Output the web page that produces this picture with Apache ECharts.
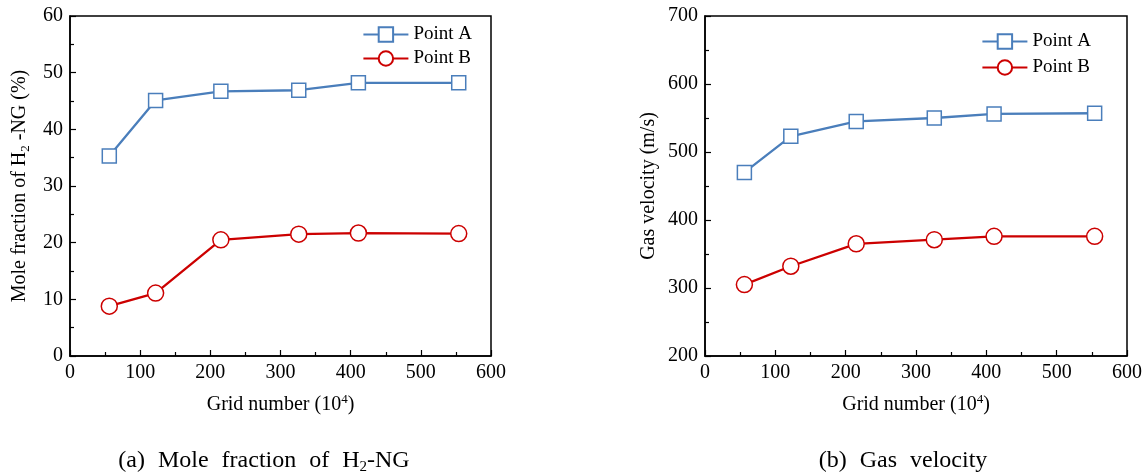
<!DOCTYPE html>
<html>
<head>
<meta charset="utf-8">
<script src="https://cdn.jsdelivr.net/npm/echarts@6/dist/echarts.min.js"></script>
<style>
  html, body { margin: 0; padding: 0; background: #fff; }
  #chart { width: 1146px; height: 475px; }
</style>
</head>
<body>
<div id="chart"></div>
<script>
// Grid independence study: mesh size (in 10^4 cells) versus monitored quantities
const gridNumbers = [56, 122, 215, 326, 411, 554];
const moleFractionA = [35.3, 45.1, 46.7, 46.9, 48.2, 48.2];
const moleFractionB = [8.8, 11.1, 20.5, 21.5, 21.7, 21.6];
const velocityA = [470, 523, 545, 550, 556, 557];
const velocityB = [305, 332, 365, 371, 376, 376];
const seriesNames = ['Point A', 'Point B'];
const xTitle = '{n|Grid number (10}{sup|4}{n|)}';
const yTitleMole = '{n|Mole fraction of H}{sub|2}{n| -NG (%)}';
const yTitleVelocity = 'Gas velocity (m/s)';
const captionA = '{t|(a)}{g| }{t|Mole}{g| }{t|fraction}{g| }{t|of}{g| }{t|H}{sub|2}{t|-NG}';
const captionB = '{t|(b)}{g| }{t|Gas}{g| }{t|velocity}';

const FONT = '"Liberation Serif", "Times New Roman", "DejaVu Serif", serif';
const BLUE = '#4a7ebb';
const RED = '#cc0000';

// rich styles for axis titles (20px text with sub/superscripts)
const nameRich = {
  n: { fontFamily: FONT, fontSize: 20, color: '#000', lineHeight: 24, verticalAlign: 'middle' },
  sub: { fontFamily: FONT, fontSize: 13, color: '#000', lineHeight: 13, verticalAlign: 'bottom' },
  sup: { fontFamily: FONT, fontSize: 13, color: '#000', lineHeight: 13, verticalAlign: 'top' }
};

// rich styles for the panel captions (wide word spacing)
const captionRich = {
  t: { fontFamily: FONT, fontSize: 24, color: '#000', lineHeight: 28, verticalAlign: 'middle' },
  g: { fontFamily: FONT, fontSize: 24, width: 13, lineHeight: 28 },
  sub: { fontFamily: FONT, fontSize: 15, color: '#000', lineHeight: 15, verticalAlign: 'bottom' }
};

function pairs(xs, ys) { return xs.map((x, i) => [x, ys[i]]); }

const tickStyle = { color: '#000', width: 1.2 };

function xAxisDef(gridIndex) {
  return {
    type: 'value', gridIndex, min: 0, max: 600, interval: 100,
    name: xTitle, nameLocation: 'middle', nameGap: 37,
    nameTextStyle: { fontFamily: FONT, fontSize: 20, color: '#000', rich: nameRich },
    axisLine: { show: true, onZero: false, lineStyle: { color: '#000', width: 1.5 } },
    axisTick: { show: true, inside: true, length: 6, lineStyle: tickStyle },
    minorTick: { show: true, splitNumber: 2, length: 4, lineStyle: tickStyle },
    axisLabel: { fontFamily: FONT, fontSize: 20, color: '#000', margin: 7 },
    splitLine: { show: false }
  };
}

function yAxisDef(gridIndex, min, max, interval, name, gap) {
  return {
    type: 'value', gridIndex, min, max, interval,
    name, nameLocation: 'middle', nameGap: gap,
    nameTextStyle: { fontFamily: FONT, fontSize: 20, color: '#000', rich: nameRich },
    axisLine: { show: true, onZero: false, lineStyle: { color: '#000', width: 1.5 } },
    axisTick: { show: true, inside: true, length: 6, lineStyle: tickStyle },
    minorTick: { show: true, splitNumber: 2, length: 4, lineStyle: tickStyle },
    axisLabel: { fontFamily: FONT, fontSize: 20, color: '#000', margin: 7 },
    splitLine: { show: false }
  };
}

function seriesDef(name, idx, data, color, symbol, size) {
  return {
    name, type: 'line', xAxisIndex: idx, yAxisIndex: idx, data,
    symbol, symbolSize: size, showAllSymbol: true,
    lineStyle: { color, width: 2.3 },
    itemStyle: { color: '#fff', borderColor: color, borderWidth: 1.5 },
    emphasis: { disabled: true },
    z: 3
  };
}

function legendDef(top, right, gap) {
  return {
    top, right, orient: 'vertical', padding: 0, itemGap: gap,
    itemWidth: 45, itemHeight: 18,
    data: seriesNames,
    textStyle: { fontFamily: FONT, fontSize: 19, color: '#000' },
    selectedMode: false
  };
}

const chart = echarts.init(document.getElementById('chart'), null, { renderer: 'canvas' });
chart.setOption({
  backgroundColor: '#fff',
  animation: false,
  title: [
    { text: captionA, left: 264, top: 447, textAlign: 'center', padding: 0,
      textStyle: { fontFamily: FONT, fontSize: 24, fontWeight: 'normal', color: '#000', rich: captionRich } },
    { text: captionB, left: 903, top: 447, textAlign: 'center', padding: 0,
      textStyle: { fontFamily: FONT, fontSize: 24, fontWeight: 'normal', color: '#000', rich: captionRich } }
  ],
  grid: [
    { left: 70, top: 16, width: 421, height: 340, show: true, borderColor: '#000', borderWidth: 1.5, backgroundColor: 'transparent' },
    { left: 705, top: 16, width: 422, height: 340, show: true, borderColor: '#000', borderWidth: 1.5, backgroundColor: 'transparent' }
  ],
  xAxis: [xAxisDef(0), xAxisDef(1)],
  yAxis: [
    yAxisDef(0, 0, 60, 10, yTitleMole, 38),
    yAxisDef(1, 200, 700, 100, yTitleVelocity, 46)
  ],
  legend: [legendDef(25, 674, 5), legendDef(32, 55, 7)],
  series: [
    seriesDef(seriesNames[0], 0, pairs(gridNumbers, moleFractionA), BLUE, 'rect', 14),
    seriesDef(seriesNames[1], 0, pairs(gridNumbers, moleFractionB), RED, 'circle', 16),
    seriesDef(seriesNames[0], 1, pairs(gridNumbers, velocityA), BLUE, 'rect', 14),
    seriesDef(seriesNames[1], 1, pairs(gridNumbers, velocityB), RED, 'circle', 16)
  ]
});
</script>
</body>
</html>
